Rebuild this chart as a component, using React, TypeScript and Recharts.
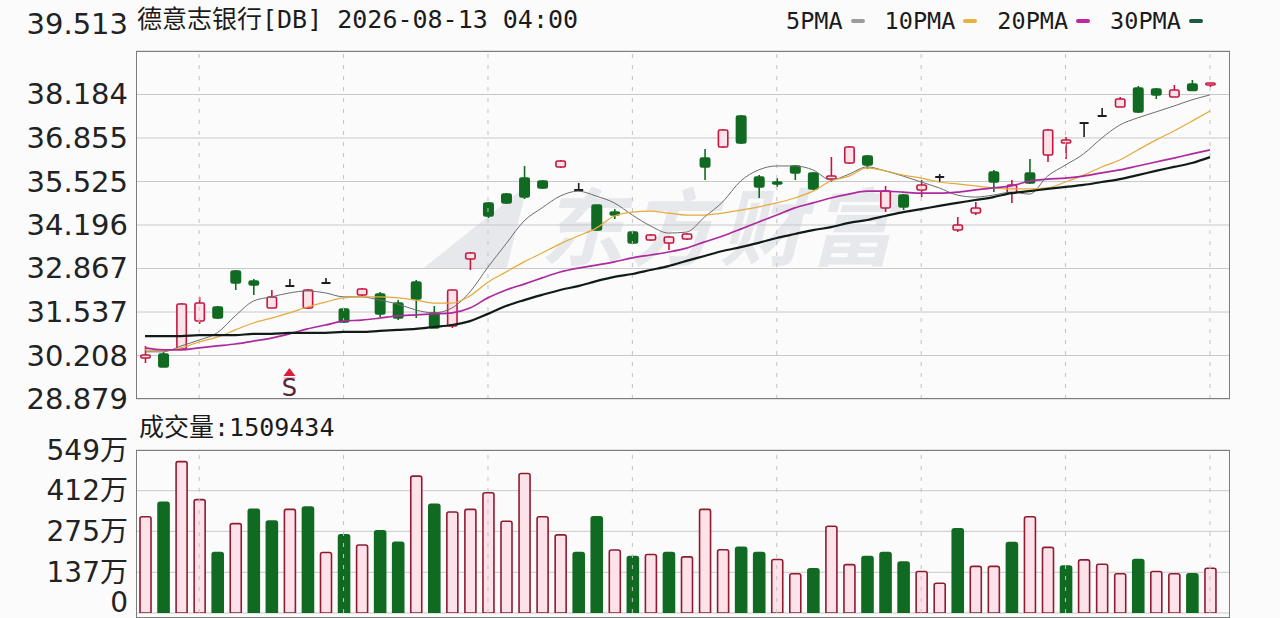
import React from "react";
import {
  ComposedChart,
  Bar,
  Line,
  XAxis,
  YAxis,
  CartesianGrid,
  ReferenceLine,
  ReferenceDot,
  Cell,
} from "recharts";

// header texts
const title = "德意志银行[DB] 2026-08-13 04:00";
const volumeTitle = "成交量";
const lastVolume = 1509434;

// candles, oldest first
const opens = [
  30.131, 30.254, 30.406, 31.262, 31.69, 32.79, 32.484, 31.659, 32.331, 31.659,
  32.423, 31.629, 32.056, 32.087, 31.812, 32.454, 31.506, 31.109, 33.157, 34.868,
  35.143, 35.632, 35.54, 35.968, 35.265, 34.807, 34.593, 33.982, 33.737, 33.645,
  33.768, 36.243, 36.579, 37.526, 35.662, 35.509, 35.998, 35.785, 35.601, 36.09,
  36.304, 34.715, 35.112, 35.265, 35.662, 34.043, 34.562, 35.815, 35.173, 35.785,
  36.335, 36.701, 37.312, 37.526, 37.802, 38.382, 38.352, 38.107, 38.504, 38.474,
];
const highs = [
  30.498, 30.315, 31.812, 31.995, 31.72, 32.82, 32.545, 32.209, 32.545, 32.24,
  32.576, 31.659, 32.27, 32.148, 31.904, 32.515, 31.72, 32.209, 33.37, 34.898,
  35.173, 35.998, 35.571, 36.182, 35.479, 34.807, 34.684, 34.012, 33.92, 33.859,
  33.951, 36.518, 37.129, 37.557, 35.723, 35.632, 36.029, 35.815, 36.273, 36.61,
  36.335, 35.387, 35.143, 35.571, 35.754, 34.44, 34.898, 35.876, 35.571, 36.212,
  37.129, 36.885, 37.312, 37.771, 38.107, 38.443, 38.382, 38.474, 38.627, 38.535,
];
const lows = [
  29.978, 29.856, 30.376, 31.17, 31.323, 32.209, 32.056, 31.659, 32.331, 31.629,
  32.423, 31.201, 32.026, 31.384, 31.292, 31.354, 31.048, 31.048, 32.82, 34.409,
  34.837, 34.99, 35.296, 35.937, 35.265, 34.012, 34.379, 33.615, 33.707, 33.432,
  33.737, 35.571, 36.548, 36.671, 35.021, 35.357, 35.571, 35.265, 35.509, 36.06,
  35.907, 34.593, 34.654, 35.051, 35.509, 33.982, 34.501, 35.204, 34.868, 35.448,
  36.121, 36.212, 36.885, 37.526, 37.802, 37.618, 38.046, 38.107, 38.306, 38.413,
];
const closes = [
  30.223, 29.856, 31.781, 31.812, 31.354, 32.423, 32.362, 31.995, 32.331, 32.209,
  32.423, 31.231, 32.24, 31.476, 31.354, 31.934, 31.048, 32.209, 33.34, 34.471,
  34.868, 35.051, 35.326, 36.151, 35.265, 34.043, 34.501, 33.645, 33.89, 33.829,
  33.92, 35.968, 37.099, 36.701, 35.357, 35.448, 35.785, 35.296, 35.693, 36.579,
  36.029, 35.234, 34.746, 35.418, 35.662, 34.195, 34.715, 35.509, 35.418, 35.479,
  37.099, 36.793, 37.312, 37.526, 38.046, 37.649, 38.168, 38.321, 38.306, 38.535,
];

// moving averages as drawn
const ma5 = [
  30.32, 30.32, 30.5, 30.68, 30.9, 31.42, 31.87, 32.0, 32.12, 32.18,
  32.12, 32.0, 32.0, 31.9, 31.78, 31.6, 31.51, 31.66, 32.15, 32.91,
  33.62, 34.32, 34.72, 35.08, 35.23, 35.08, 34.87, 34.5, 34.17, 33.95,
  33.98, 34.44, 34.9, 35.54, 35.88, 36.0, 36.0, 35.88, 35.57, 35.75,
  35.97, 35.85, 35.69, 35.51, 35.33, 35.11, 35.05, 35.11, 35.2, 35.14,
  35.69, 36.03, 36.37, 36.85, 37.25, 37.47, 37.65, 37.83, 38.02, 38.17,
];
const ma10 = [
  30.38, 30.35, 30.44, 30.62, 30.77, 30.99, 31.2, 31.35, 31.51, 31.69,
  31.84, 31.97, 32.0, 32.0, 31.97, 31.9, 31.81, 31.81, 32.03, 32.45,
  32.76, 33.07, 33.34, 33.62, 33.86, 34.1, 34.47, 34.59, 34.62, 34.56,
  34.5, 34.5, 34.56, 34.65, 34.75, 34.87, 35.02, 35.23, 35.54, 35.69,
  35.94, 35.85, 35.72, 35.63, 35.51, 35.45, 35.39, 35.33, 35.3, 35.3,
  35.33, 35.51, 35.72, 35.97, 36.18, 36.49, 36.79, 37.07, 37.37, 37.68,
];
const ma20 = [
  30.44, 30.38, 30.38, 30.44, 30.5, 30.56, 30.65, 30.74, 30.87, 31.02,
  31.14, 31.26, 31.29, 31.35, 31.42, 31.45, 31.48, 31.51, 31.66, 31.97,
  32.21, 32.39, 32.58, 32.76, 32.88, 32.97, 33.07, 33.19, 33.28, 33.37,
  33.49, 33.68, 33.86, 34.07, 34.29, 34.5, 34.72, 34.87, 35.02, 35.14,
  35.23, 35.23, 35.2, 35.17, 35.17, 35.2, 35.27, 35.33, 35.39, 35.54,
  35.6, 35.63, 35.69, 35.79, 35.88, 36.0, 36.12, 36.24, 36.37, 36.49,
];
const ma30 = [
  30.8, 30.8, 30.8, 30.83, 30.83, 30.83, 30.87, 30.87, 30.9, 30.9,
  30.9, 30.93, 30.93, 30.96, 30.99, 31.02, 31.08, 31.14, 31.26, 31.48,
  31.72, 31.9, 32.06, 32.21, 32.33, 32.48, 32.61, 32.7, 32.82, 32.94,
  33.1, 33.25, 33.4, 33.52, 33.65, 33.8, 33.92, 34.04, 34.13, 34.26,
  34.35, 34.47, 34.59, 34.68, 34.78, 34.87, 34.96, 35.05, 35.17, 35.23,
  35.3, 35.36, 35.42, 35.51, 35.6, 35.72, 35.85, 35.97, 36.09, 36.27,
];

// volume in 万
const volumes = [
  324, 373, 510, 382, 204, 301, 349, 310, 349, 357,
  204, 263, 229, 277, 238, 461, 366, 340, 349, 405,
  309, 470, 324, 263, 204, 324, 212, 190, 197, 204,
  189, 349, 213, 221, 204, 180, 132, 149, 292, 163,
  190, 204, 172, 140, 100, 284, 157, 157, 237, 324,
  221, 158, 179, 164, 132, 180, 140, 132, 132, 150.9,
];

const priceTicks = [28.879, 30.208, 31.537, 32.867, 34.196, 35.525, 36.855, 38.184, 39.513];
const volumeTicks = [0, 137, 275, 412, 549];
const gridCandles = [3, 11, 19, 27, 35, 43, 51, 59];
const signalCandles = [8];
const signalPrices = [29.58];
const signalLabels = ["S"];

const maSeries = [
  { key: "ma5", name: "5PMA", color: "#6c6c6c", legend: "#9c9c9c", width: 1 },
  { key: "ma10", name: "10PMA", color: "#e4aa3a", legend: "#e6b23c", width: 1.2 },
  { key: "ma20", name: "20PMA", color: "#ad2a9e", legend: "#c0269e", width: 1.7 },
  { key: "ma30", name: "30PMA", color: "#101c16", legend: "#1b5a3e", width: 2.2 },
];

const rows = closes.map((c, i) => ({
  i,
  open: opens[i],
  high: highs[i],
  low: lows[i],
  close: c,
  ma5: ma5[i],
  ma10: ma10[i],
  ma20: ma20[i],
  ma30: ma30[i],
  vol: volumes[i],
  rise: i === 0 || c >= closes[i - 1],
}));

const UP = "#c3173d";
const UP_FILL = "#fde3e9";
const DOWN = "#116a21";
const FLAT = "#1c1c1c";
const axisFont = '"DejaVu Sans", "Noto Sans CJK SC", sans-serif';
const monoFont = '"DejaVu Sans Mono", "Noto Sans CJK SC", monospace';

const Candle = (props: any) => {
  const { x, y, width, height, payload } = props;
  const { open, close, high, low } = payload;
  const k = high > low ? height / (high - low) : 0;
  const py = (v: number) => y + (high - v) * k;
  const flat = open === close;
  const up = close > open;
  const color = flat ? FLAT : up ? UP : DOWN;
  const top = py(Math.max(open, close));
  const bot = py(Math.min(open, close));
  const cx = x + width / 2;
  return (
    <g>
      <line x1={cx} x2={cx} y1={y} y2={y + height} stroke={color} strokeWidth={1.6} />
      {flat ? (
        <line x1={x + 1} x2={x + width - 1} y1={top} y2={top} stroke={color} strokeWidth={2} />
      ) : (
        <rect
          x={x + 0.8}
          y={top}
          width={width - 1.6}
          height={Math.max(bot - top, 1.5)}
          rx={1.5}
          fill={up ? UP_FILL : DOWN}
          stroke={color}
          strokeWidth={1.6}
        />
      )}
    </g>
  );
};

const PriceTick = (props: any) => {
  const { x, y, payload } = props;
  const lift = payload.value === priceTicks[priceTicks.length - 1] ? -27 : 0;
  return (
    <text x={x} y={y + lift} textAnchor="end" dominantBaseline="central" fontSize={29} fontFamily={axisFont} fill="#222">
      {payload.value.toFixed(3)}
    </text>
  );
};

const VolumeTick = (props: any) => {
  const { x, y, payload } = props;
  const v = payload.value;
  return (
    <text x={x} y={v === 0 ? y - 11 : y} textAnchor="end" dominantBaseline="central" fontSize={28} fontFamily={axisFont} fill="#222">
      {v === 0 ? "0" : `${v}万`}
    </text>
  );
};

const SignalMark = (label: string) => (props: any) => {
  const { cx, cy } = props;
  return (
    <g>
      <path d={`M${cx - 6},${cy} L${cx + 6},${cy} L${cx},${cy - 8} Z`} fill="#d8203e" />
      <line x1={cx - 6} x2={cx + 6} y1={cy + 2} y2={cy + 2} stroke="#f2a0b0" strokeWidth={1.5} />
      <text x={cx} y={cy + 20} textAnchor="middle" fontSize={24} fontFamily={axisFont} fill="#5a2636">
        {label}
      </text>
    </g>
  );
};

const plotBox = { left: 136, right: 1230 };

export default function App() {
  return (
    <div style={{ position: "absolute", left: 0, top: 0, width: 1280, height: 618, background: "#fbfbfc", overflow: "hidden" }}>
      {/* watermark */}
      <div
        style={{
          position: "absolute",
          left: 425,
          top: 178,
          fontSize: 84,
          fontWeight: 700,
          fontFamily: '"Noto Sans CJK SC", sans-serif',
          color: "#e6e8ec",
          letterSpacing: 6,
          lineHeight: "90px",
          fontStyle: "italic",
        }}
      >
        ◢ 东方财富
      </div>

      <div style={{ position: "absolute", left: 137, top: 7, fontSize: 25, lineHeight: "26px", fontFamily: monoFont, color: "#1b1b1b" }}>
        {title}
      </div>
      <div style={{ position: "absolute", left: 786, top: 8, display: "flex", alignItems: "center", fontSize: 23.5, lineHeight: "26px", fontFamily: monoFont, color: "#1b1b1b" }}>
        {maSeries.map((s) => (
          <span key={s.key} style={{ display: "flex", alignItems: "center", marginRight: 20 }}>
            {s.name}
            <span style={{ display: "inline-block", width: 14, height: 4, borderRadius: 2, marginLeft: 8, background: s.legend }} />
          </span>
        ))}
      </div>
      <div style={{ position: "absolute", left: 139, top: 415, fontSize: 25, lineHeight: "26px", fontFamily: monoFont, color: "#1b1b1b" }}>
        {volumeTitle}:{lastVolume}
      </div>

      <div style={{ position: "absolute", left: 0, top: 0 }}>
        <ComposedChart width={1280} height={420} data={rows} margin={{ top: 51, right: 50, bottom: 21, left: 0 }}>
          <CartesianGrid vertical={false} stroke="#c9c9c9" />
          <XAxis dataKey="i" type="category" hide padding={{ left: 0, right: 11 }} />
          <YAxis
            type="number"
            domain={[priceTicks[0], priceTicks[priceTicks.length - 1]]}
            ticks={priceTicks}
            allowDataOverflow
            width={plotBox.left}
            axisLine={false}
            tickLine={false}
            tickSize={0}
            tickMargin={8}
            tick={<PriceTick />}
            interval={0}
          />
          {gridCandles.map((g) => (
            <ReferenceLine key={g} x={g} stroke="#c2c2c2" strokeDasharray="4 7" />
          ))}
          {maSeries.map((s) => (
            <Line
              key={s.key}
              dataKey={s.key}
              name={s.name}
              stroke={s.color}
              strokeWidth={s.width}
              dot={false}
              type="monotone"
              isAnimationActive={false}
            />
          ))}
          <Bar dataKey={(d: any) => [d.low, d.high]} barSize={11} shape={<Candle />} isAnimationActive={false} />
          {signalCandles.map((c, k) => (
            <ReferenceDot key={c} x={c} y={signalPrices[k]} shape={SignalMark(signalLabels[k])} />
          ))}
        </ComposedChart>
      </div>

      <div style={{ position: "absolute", left: 0, top: 405 }}>
        <ComposedChart width={1280} height={213} data={rows} margin={{ top: 45, right: 50, bottom: 5, left: 0 }}>
          <CartesianGrid vertical={false} stroke="#c9c9c9" />
          <XAxis dataKey="i" type="category" hide padding={{ left: 0, right: 11 }} />
          <YAxis
            type="number"
            domain={[0, volumeTicks[volumeTicks.length - 1]]}
            ticks={volumeTicks}
            allowDataOverflow
            width={plotBox.left}
            axisLine={false}
            tickLine={false}
            tickSize={0}
            tickMargin={8}
            tick={<VolumeTick />}
            interval={0}
          />
          {gridCandles.map((g) => (
            <ReferenceLine key={g} x={g} stroke="#c2c2c2" strokeDasharray="4 7" />
          ))}
          <Bar dataKey="vol" barSize={11} radius={[2, 2, 0, 0]} isAnimationActive={false}>
            {rows.map((r) => (
              <Cell key={r.i} fill={r.rise ? UP_FILL : DOWN} stroke={r.rise ? "#8e1b30" : DOWN} strokeWidth={1.6} />
            ))}
          </Bar>
        </ComposedChart>
      </div>

      {/* panel frames */}
      <div style={{ position: "absolute", left: plotBox.left, top: 51, width: plotBox.right - plotBox.left, height: 348, border: "1.5px solid #7c7c7c", boxSizing: "border-box", pointerEvents: "none" }} />
      <div style={{ position: "absolute", left: plotBox.left, top: 450, width: plotBox.right - plotBox.left, height: 168, border: "1.5px solid #7c7c7c", boxSizing: "border-box", pointerEvents: "none" }} />
    </div>
  );
}
